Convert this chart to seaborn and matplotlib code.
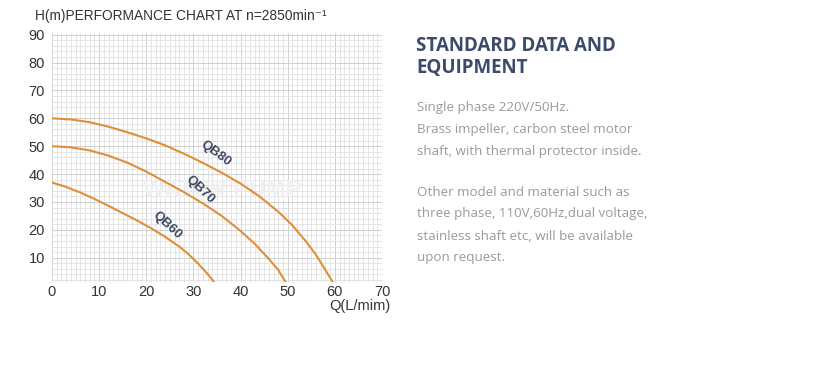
import numpy as np
import pandas as pd
import matplotlib
matplotlib.use("Agg")
import matplotlib.pyplot as plt
from matplotlib.ticker import MultipleLocator
import seaborn as sns

# ---- data ----
qb80_q = [0, 4, 8, 12, 16, 20, 24, 28, 32, 36, 40, 44, 48, 51, 54, 56, 58, 60]
qb80_h = [60, 59.6, 58.6, 57.0, 55.0, 52.8, 50.3, 47.3, 44.0, 40.5, 36.6, 32.0,
          26.5, 21.6, 15.6, 11.0, 5.6, 0]
qb70_q = [0, 4, 8, 12, 16, 20, 24, 28, 32, 36, 40, 43, 46, 48, 50]
qb70_h = [50, 49.6, 48.5, 46.6, 44.1, 40.9, 37.2, 33.5, 29.5, 25.0, 19.6, 15.0,
          9.6, 5.6, 0]
qb60_q = [0, 3, 6, 9, 12, 15, 18, 21, 24, 27, 29, 31, 33, 35]
qb60_h = [37, 35.4, 33.4, 31.1, 28.6, 26.0, 23.4, 20.6, 17.5, 14.0, 11.2, 7.9,
          4.2, 0]
models = ["QB80", "QB70", "QB60"]
x_ticks = [0, 10, 20, 30, 40, 50, 60, 70]
y_ticks = [10, 20, 30, 40, 50, 60, 70, 80, 90]

title = "H(m)PERFORMANCE CHART AT n=2850min\u207b\u00b9"
x_label = "Q(L/mim)"
heading = ["STANDARD DATA AND", "EQUIPMENT"]
body = ["Single phase 220V/50Hz.",
        "Brass impeller, carbon steel motor",
        "shaft, with thermal protector inside.",
        "",
        "Other model and material such as",
        "three phase, 110V,60Hz,dual voltage,",
        "stainless shaft etc, will be available",
        "upon request."]

frames = []
for name, q, h in zip(models, [qb80_q, qb70_q, qb60_q], [qb80_h, qb70_h, qb60_h]):
    frames.append(pd.DataFrame({"Q": q, "H": h, "model": name}))
df = pd.concat(frames, ignore_index=True)

sns.set_style("white")
plt.rcParams["font.family"] = ["Liberation Sans", "DejaVu Sans"]

W, H = 832, 366
fig = plt.figure(figsize=(W / 100, H / 100), dpi=100)
ax = fig.add_axes([52 / W, 1 - 282 / H, 330 / W, 249 / H])

curve_color = "#e08e3a"
sns.lineplot(data=df, x="Q", y="H", hue="model", sort=False,
             palette={m: curve_color for m in models}, linewidth=1.5,
             legend=False, ax=ax, zorder=3)

ax.set_xlim(0, 70)
ax.set_ylim(1.3, 90.6)
ax.set_xticks(x_ticks)
ax.set_yticks(y_ticks)
ax.xaxis.set_minor_locator(MultipleLocator(1))
ax.yaxis.set_minor_locator(MultipleLocator(2))
ax.grid(which="minor", color="#e1e1e1", linewidth=0.6, zorder=0)
ax.grid(which="major", color="#d0d0d0", linewidth=0.7, zorder=0)
ax.set_axisbelow(True)
for s in ax.spines.values():
    s.set_visible(False)
ax.tick_params(axis="both", which="both", length=0, labelsize=10.5,
               labelcolor="#333333")
ax.tick_params(axis="x", pad=2)
for lbl in ax.get_yticklabels():
    lbl.set_horizontalalignment("left")
ax.tick_params(axis="y", pad=17)
ax.set_xlabel("")
ax.set_ylabel("")

# watermark
ax.text(36, 34, "WATER PUMP", fontsize=17, fontweight="bold", color="#f0f0f0",
        ha="center", va="center", zorder=1)

# curve labels
lab_pos = {"QB80": (34.7, 47.3, -37), "QB70": (31.4, 34.3, -44), "QB60": (24.4, 21.7, -43)}
for m in models:
    x, y, r = lab_pos[m]
    ax.text(x, y, m, rotation=r, ha="center", va="center", fontsize=9.5,
            fontweight="bold", color="#3b4660", zorder=4)

fig.text(35 / W, 1 - 16 / H, title, fontsize=9.9, color="#333333",
         ha="left", va="center")
fig.text(390 / W, 1 - 306 / H, x_label, fontsize=10.5, color="#333333",
         ha="right", va="center")

# right panel
for i, line in enumerate(heading):
    fig.text(416 / W, 1 - (46 + 22 * i) / H, line, fontsize=13.5,
             fontweight="bold", color="#3d4b6b", ha="left", va="center",
             family=["Open Sans", "DejaVu Sans"])
ys = [107, 129, 151, 0, 193, 214, 236, 257]
for line, yy in zip(body, ys):
    if line:
        fig.text(417 / W, 1 - yy / H, line, fontsize=9.6, color="#9a9a9a",
                 ha="left", va="center", family=["Open Sans", "DejaVu Sans"])

fig.savefig("out.png", dpi=100, facecolor="white")
